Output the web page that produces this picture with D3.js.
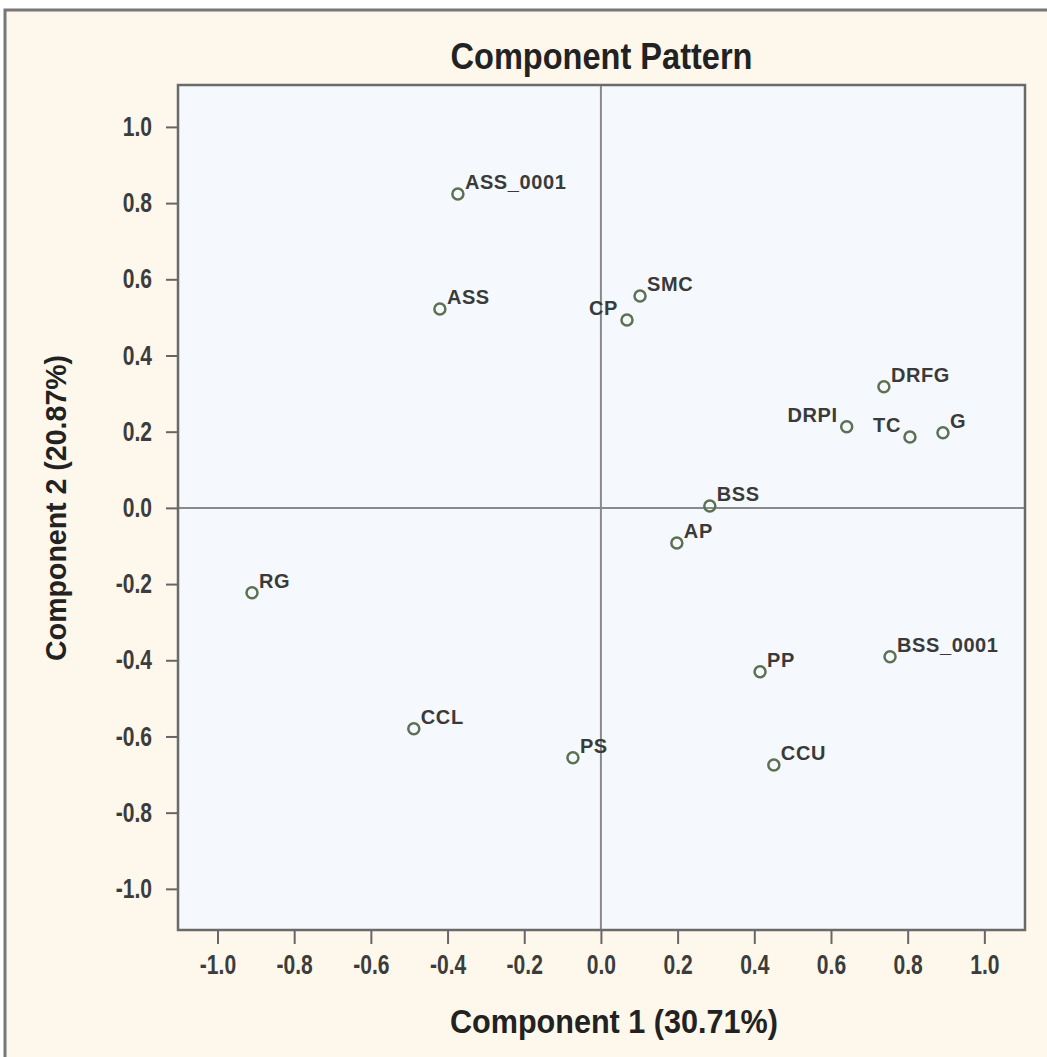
<!DOCTYPE html>
<html>
<head>
<meta charset="utf-8">
<script src="https://cdn.jsdelivr.net/npm/d3@7"></script>
<style>
  body { margin: 0; background: #fff; }
  svg { display: block; }
</style>
</head>
<body>
<svg id="chart"></svg>
<script>
const size = {w: 1047, h: 1057};
const plot = {l: 178, t: 85, r: 1025, b: 930};

// loadings
const names = ['ASS_0001', 'ASS', 'SMC', 'CP', 'DRFG', 'DRPI', 'TC', 'G', 'BSS', 'AP', 'RG', 'BSS_0001', 'PP', 'CCL', 'PS', 'CCU'];
const comp1 = [-0.373, -0.42, 0.102, 0.068, 0.738, 0.641, 0.806, 0.892, 0.284, 0.198, -0.91, 0.754, 0.415, -0.488, -0.073, 0.451];
const comp2 = [0.824, 0.522, 0.556, 0.493, 0.318, 0.213, 0.186, 0.197, 0.005, -0.092, -0.223, -0.391, -0.43, -0.58, -0.656, -0.675];
const leftLabels = ['CP', 'DRPI', 'TC'];
const tickValues = [-1.0, -0.8, -0.6, -0.4, -0.2, 0.0, 0.2, 0.4, 0.6, 0.8, 1.0];

const points = names.map((n, i) => ({name: n, x: comp1[i], y: comp2[i]}));
const font = '"Liberation Sans", Arial, sans-serif';
const squeeze = 0.78;
const fmt = d => d3.format('.1f')(d).replace('\u2212', '-');

const svg = d3.select('svg#chart')
    .attr('width', size.w)
    .attr('height', size.h);

// outer frame
svg.append('rect')
    .attr('x', 0).attr('y', 0)
    .attr('width', size.w).attr('height', size.h)
    .attr('fill', '#fff');
svg.append('rect')
    .attr('x', 5).attr('y', 10)
    .attr('width', size.w + 20).attr('height', size.h + 20)
    .attr('fill', '#fdf8eb')
    .attr('stroke', '#777')
    .attr('stroke-width', 3);

const x = d3.scaleLinear().domain([-1.103, 1.106]).range([plot.l, plot.r]);
const y = d3.scaleLinear().domain([-1.108, 1.11]).range([plot.b, plot.t]);

// plot background
svg.append('rect')
    .attr('x', plot.l).attr('y', plot.t)
    .attr('width', plot.r - plot.l).attr('height', plot.b - plot.t)
    .attr('fill', '#f5f9fd');

// zero lines
svg.append('line')
    .attr('x1', x(0)).attr('x2', x(0))
    .attr('y1', plot.t).attr('y2', plot.b)
    .attr('stroke', '#8a8a8a').attr('stroke-width', 2);
svg.append('line')
    .attr('x1', plot.l).attr('x2', plot.r)
    .attr('y1', y(0)).attr('y2', y(0))
    .attr('stroke', '#8a8a8a').attr('stroke-width', 2);

// axes
const xAxis = svg.append('g')
    .attr('transform', `translate(0, ${plot.b})`)
    .call(d3.axisBottom(x).tickValues(tickValues).tickFormat(fmt).tickSize(14).tickPadding(11));
const yAxis = svg.append('g')
    .attr('transform', `translate(${plot.l}, 0)`)
    .call(d3.axisLeft(y).tickValues(tickValues).tickFormat(fmt).tickSize(12).tickPadding(8));

[xAxis, yAxis].forEach(g => {
    g.select('.domain').remove();
    g.selectAll('.tick line').attr('stroke', '#666').attr('stroke-width', 2);
    g.selectAll('.tick text')
        .attr('fill', '#3c3c3c')
        .style('font-family', font)
        .style('font-weight', 'bold')
        .style('font-size', '27px');
});
// condensed look for tick labels
xAxis.selectAll('.tick text').attr('transform', `scale(${squeeze},1)`);
yAxis.selectAll('.tick text')
    .attr('x', -26 / squeeze)
    .attr('transform', `scale(${squeeze},1)`);

// plot border
svg.append('rect')
    .attr('x', plot.l).attr('y', plot.t)
    .attr('width', plot.r - plot.l).attr('height', plot.b - plot.t)
    .attr('fill', 'none')
    .attr('stroke', '#6a6a6a')
    .attr('stroke-width', 2.5);

// points
svg.append('g')
    .selectAll('circle')
    .data(points)
    .join('circle')
    .attr('cx', d => x(d.x))
    .attr('cy', d => y(d.y))
    .attr('r', 5.5)
    .attr('fill', 'none')
    .attr('stroke', '#5b7152')
    .attr('stroke-width', 2.5);

// point labels
svg.append('g')
    .selectAll('text')
    .data(points)
    .join('text')
    .attr('x', d => leftLabels.includes(d.name) ? x(d.x) - 9 : x(d.x) + 7)
    .attr('y', d => y(d.y) - 5)
    .attr('text-anchor', d => leftLabels.includes(d.name) ? 'end' : 'start')
    .attr('fill', '#3a3a3a')
    .style('font-family', font)
    .style('font-weight', 'bold')
    .style('font-size', '20px')
    .style('letter-spacing', '0.6px')
    .text(d => d.name);

// titles
svg.append('text')
    .attr('x', (plot.l + plot.r) / 2)
    .attr('y', 69)
    .attr('text-anchor', 'middle')
    .attr('fill', '#222')
    .attr('textLength', 302)
    .attr('lengthAdjust', 'spacingAndGlyphs')
    .style('font-family', font)
    .style('font-weight', 'bold')
    .style('font-size', '36px')
    .text('Component Pattern');

svg.append('text')
    .attr('x', x(0) + 13)
    .attr('y', 1033)
    .attr('text-anchor', 'middle')
    .attr('fill', '#222')
    .attr('textLength', 328)
    .attr('lengthAdjust', 'spacingAndGlyphs')
    .style('font-family', font)
    .style('font-weight', 'bold')
    .style('font-size', '33px')
    .text('Component 1 (30.71%)');

svg.append('text')
    .attr('transform', `translate(66, ${y(0)}) rotate(-90)`)
    .attr('text-anchor', 'middle')
    .attr('fill', '#222')
    .attr('textLength', 306)
    .attr('lengthAdjust', 'spacingAndGlyphs')
    .style('font-family', font)
    .style('font-weight', 'bold')
    .style('font-size', '29px')
    .text('Component 2 (20.87%)');
</script>
</body>
</html>
